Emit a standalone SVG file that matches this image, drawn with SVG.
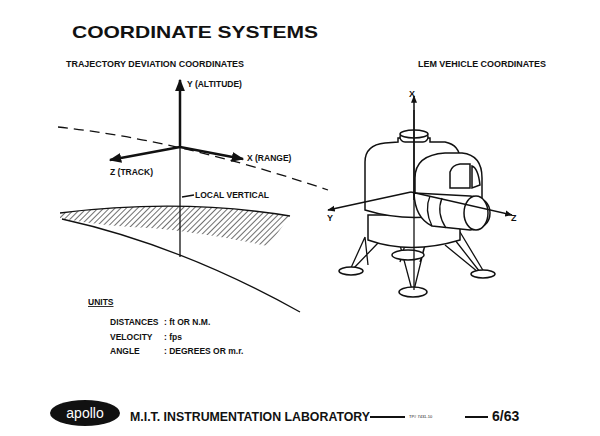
<svg xmlns="http://www.w3.org/2000/svg" width="600" height="436" viewBox="0 0 600 436">
<defs>
<marker id="ah" viewBox="0 0 10 10" refX="9" refY="5" markerWidth="5" markerHeight="5" orient="auto"><path d="M0,1 L10,5 L0,9 z" fill="#111"/></marker>
<pattern id="hatch" width="4" height="4" patternUnits="userSpaceOnUse" patternTransform="rotate(45)"><line x1="0" y1="0" x2="0" y2="4" stroke="#222" stroke-width="1.3"/></pattern>
</defs>
<style>
text{font-family:"Liberation Sans",Arial,sans-serif;font-weight:bold;fill:#111}
.l{fill:none;stroke:#111;stroke-width:1.3}
.b{fill:#fff;stroke:#111;stroke-width:1.5}
</style>
<rect width="600" height="436" fill="#fff"/>
<text x="72" y="38" font-size="17" font-weight="900" textLength="246" lengthAdjust="spacingAndGlyphs">COORDINATE SYSTEMS</text>
<text x="66" y="67" font-size="8.5" textLength="178" lengthAdjust="spacingAndGlyphs">TRAJECTORY DEVIATION COORDINATES</text>
<text x="418" y="67" font-size="8.5" textLength="128" lengthAdjust="spacingAndGlyphs">LEM VEHICLE COORDINATES</text>
<g id="surface">
<path d="M60,213 Q180,198 290,216 L268,246 Q200,232 150,228 Q100,226 60,218 z" fill="url(#hatch)"/>
<path class="l" d="M60,213 Q180,198 290,216"/>
<path class="l" d="M62,219 Q180,245 300,312"/>
</g>
<g id="trajectory"><path class="l" d="M58,127 Q180,140 328,190" stroke-dasharray="10,6"/></g>
<g id="axes-left">
<line class="l" x1="180" y1="147" x2="180" y2="257"/>
<line x1="180" y1="147" x2="180" y2="80" stroke="#111" stroke-width="2.5" marker-end="url(#ah)"/>
<line x1="180" y1="147" x2="110" y2="160" stroke="#111" stroke-width="2.5" marker-end="url(#ah)"/>
<line x1="180" y1="147" x2="243" y2="159" stroke="#111" stroke-width="2.5" marker-end="url(#ah)"/>
<text x="187" y="87" font-size="8.5">Y (ALTITUDE)</text>
<text x="247" y="161" font-size="8.5">X (RANGE)</text>
<text x="110" y="175" font-size="8.5">Z (TRACK)</text>
<line class="l" x1="182" y1="197" x2="194" y2="195"/>
<text x="195" y="198" font-size="8.5">LOCAL VERTICAL</text>
</g>
<g id="lem">
<path class="l" d="M365,237 L350,270 M365,237 L368,265 M378,243 L352,270 M400,245 L412,290 M425,245 L414,290 M455,240 L480,272 M460,232 L484,272 M445,245 L478,272 M405,245 L400,262 M425,245 L420,262"/>
<path class="b" d="M368,215 L368,240 Q410,255 460,240 L460,215 z"/>
<ellipse class="b" cx="408" cy="255" rx="16" ry="5"/>
<ellipse class="b" cx="351" cy="271" rx="12" ry="4"/>
<ellipse class="b" cx="413" cy="292" rx="14" ry="5"/>
<ellipse class="b" cx="483" cy="274" rx="12" ry="4"/>
<path class="b" d="M365,210 L365,162 Q365,145 385,143 L398,142 L398,138 L430,138 L430,142 L445,142 Q460,145 460,160 L460,212 Q410,224 365,210 z"/>
<rect class="b" x="400" y="132" width="28" height="10" rx="5"/>
<ellipse class="b" cx="414" cy="134" rx="14" ry="4"/>
<path class="b" d="M415,198 L415,178 Q415,155 445,153 L462,153 Q482,155 482,178 L482,205 L440,207 z"/>
<path class="b" d="M450,188 L450,172 Q452,165 460,164 L470,164 L470,188 z"/>
<path class="b" d="M472,188 L472,166 Q478,168 480,185 z"/>
<path class="b" d="M414,193 L470,196 Q490,198 490,213 Q490,228 470,230 L432,226 Q415,218 414,193 z"/>
<ellipse class="b" cx="476" cy="213" rx="12" ry="17"/>
<path class="l" d="M430,196 Q424,210 432,226 M442,198 Q436,213 446,228"/>
<line class="l" x1="414" y1="110" x2="414" y2="290"/>
<line x1="414" y1="200" x2="414" y2="96" stroke="#111" stroke-width="1.5" marker-end="url(#ah)"/>
<line x1="411" y1="192" x2="328" y2="210" stroke="#111" stroke-width="1.5" marker-end="url(#ah)"/>
<line x1="411" y1="192" x2="512" y2="215" stroke="#111" stroke-width="1.5" marker-end="url(#ah)"/>
<text x="409" y="97" font-size="9">X</text>
<text x="327" y="221" font-size="9">Y</text>
<text x="511" y="221" font-size="9">Z</text>
</g>
<g id="units">
<text x="88" y="305" font-size="8.5" text-decoration="underline">UNITS</text>
<text x="110" y="325" font-size="8.5">DISTANCES</text><text x="164" y="325" font-size="8.5">:  ft  OR  N.M.</text>
<text x="110" y="340" font-size="8.5">VELOCITY</text><text x="164" y="340" font-size="8.5">:  fps</text>
<text x="110" y="354" font-size="8.5">ANGLE</text><text x="164" y="354" font-size="8.5">:  DEGREES  OR  m.r.</text>
</g>
<g id="footer">
<ellipse cx="85" cy="413" rx="35" ry="13" fill="#111"/>
<text x="85" y="418" font-size="14" text-anchor="middle" style="fill:#fff;font-weight:normal">apollo</text>
<text x="130" y="421" font-size="12" font-weight="900" textLength="240" lengthAdjust="spacingAndGlyphs">M.I.T. INSTRUMENTATION LABORATORY</text>
<line x1="370" y1="417" x2="405" y2="417" stroke="#111" stroke-width="2"/>
<text x="409" y="418" font-size="4" style="font-weight:normal">TP# 7431-10</text>
<line x1="465" y1="417" x2="488" y2="417" stroke="#111" stroke-width="2"/>
<text x="492" y="421" font-size="14">6/63</text>
</g>
</svg>
